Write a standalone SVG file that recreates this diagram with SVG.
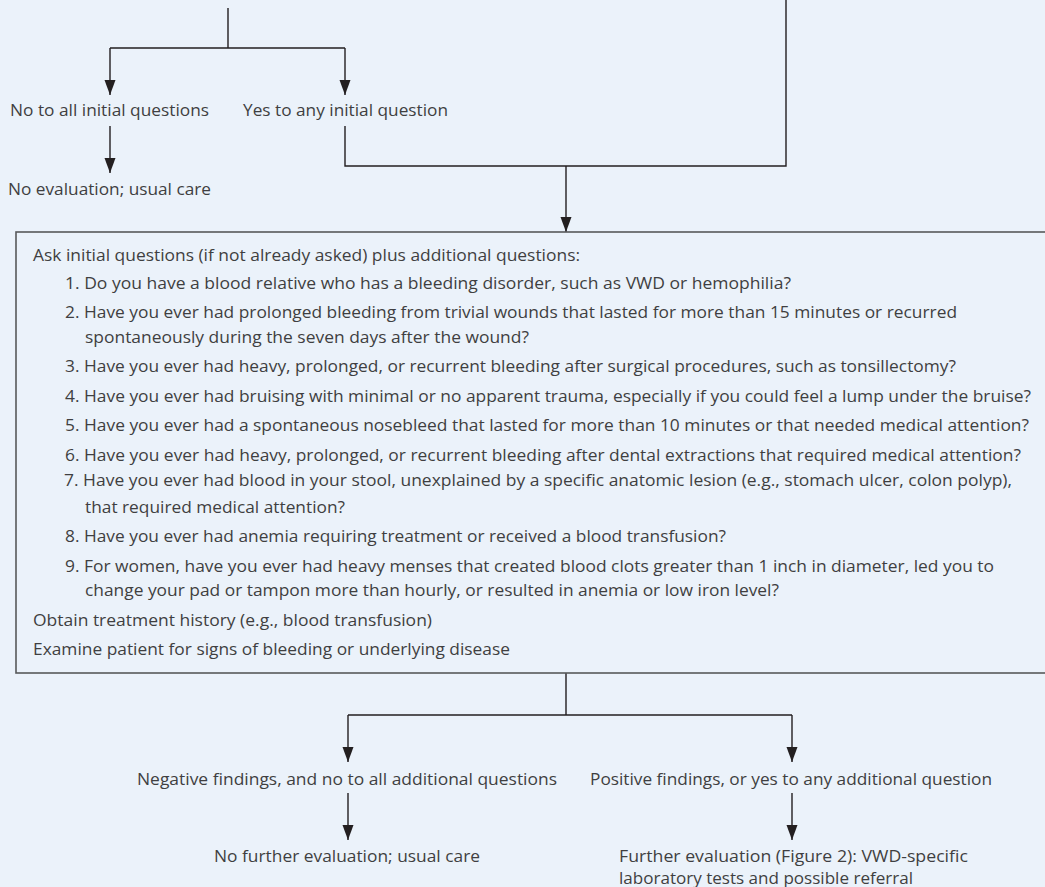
<svg xmlns="http://www.w3.org/2000/svg" width="1045" height="887" viewBox="0 0 1045 887">
<defs>
<style>
.t{font-family:"Open Sans","Noto Sans","Liberation Sans",sans-serif;font-size:16.8px;fill:#3f3f41}
.c{fill:none;stroke:#231f20;stroke-width:1.4}
.b{fill:none;stroke:#58595b;stroke-width:1.6}
</style>
<marker id="a" markerUnits="userSpaceOnUse" markerWidth="16" markerHeight="12" viewBox="0 0 16 12" refX="15" refY="6" orient="auto">
<path d="M0,0.5 L15,6 L0,11.5 Z" fill="#231f20"/>
</marker>
</defs>
<rect width="1045" height="887" fill="#ebf2fa"/>
<g id="connectors">
<path class="c" d="M228,8 V48 M110,48 H345"/>
<path class="c" d="M110,48 V95" marker-end="url(#a)"/>
<path class="c" d="M345,48 V95" marker-end="url(#a)"/>
<path class="c" d="M110,126 V173" marker-end="url(#a)"/>
<path class="c" d="M345,126 V166 H786 V0"/>
<path class="c" d="M566,166 V232" marker-end="url(#a)"/>
<path class="c" d="M566,673 V715 M348,715 H792"/>
<path class="c" d="M348,715 V762" marker-end="url(#a)"/>
<path class="c" d="M792,715 V762" marker-end="url(#a)"/>
<path class="c" d="M348,793 V840" marker-end="url(#a)"/>
<path class="c" d="M792,793 V840" marker-end="url(#a)"/>
</g>
<g id="no-initial"><text class="t" x="10" y="116" textLength="199" lengthAdjust="spacingAndGlyphs">No to all initial questions</text></g>
<g id="yes-initial"><text class="t" x="243" y="116" textLength="205" lengthAdjust="spacingAndGlyphs">Yes to any initial question</text></g>
<g id="no-evaluation"><text class="t" x="8" y="195" textLength="203" lengthAdjust="spacingAndGlyphs">No evaluation; usual care</text></g>
<g id="questions-box">
<rect class="b" x="16" y="232" width="1040" height="441"/>
<text class="t" x="33" y="261" textLength="547" lengthAdjust="spacingAndGlyphs">Ask initial questions (if not already asked) plus additional questions:</text>
<text class="t" x="65" y="289" textLength="726" lengthAdjust="spacingAndGlyphs">1. Do you have a blood relative who has a bleeding disorder, such as VWD or hemophilia?</text>
<text class="t" x="65" y="318" textLength="892" lengthAdjust="spacingAndGlyphs">2. Have you ever had prolonged bleeding from trivial wounds that lasted for more than 15 minutes or recurred</text>
<text class="t" x="85" y="343" textLength="444" lengthAdjust="spacingAndGlyphs">spontaneously during the seven days after the wound?</text>
<text class="t" x="65" y="372" textLength="891" lengthAdjust="spacingAndGlyphs">3. Have you ever had heavy, prolonged, or recurrent bleeding after surgical procedures, such as tonsillectomy?</text>
<text class="t" x="65" y="402" textLength="966" lengthAdjust="spacingAndGlyphs">4. Have you ever had bruising with minimal or no apparent trauma, especially if you could feel a lump under the bruise?</text>
<text class="t" x="65" y="431" textLength="964" lengthAdjust="spacingAndGlyphs">5. Have you ever had a spontaneous nosebleed that lasted for more than 10 minutes or that needed medical attention?</text>
<text class="t" x="65" y="461" textLength="956" lengthAdjust="spacingAndGlyphs">6. Have you ever had heavy, prolonged, or recurrent bleeding after dental extractions that required medical attention?</text>
<text class="t" x="64" y="486" textLength="948" lengthAdjust="spacingAndGlyphs">7. Have you ever had blood in your stool, unexplained by a specific anatomic lesion (e.g., stomach ulcer, colon polyp),</text>
<text class="t" x="85" y="513" textLength="260" lengthAdjust="spacingAndGlyphs">that required medical attention?</text>
<text class="t" x="65" y="542" textLength="661" lengthAdjust="spacingAndGlyphs">8. Have you ever had anemia requiring treatment or received a blood transfusion?</text>
<text class="t" x="65" y="572" textLength="929" lengthAdjust="spacingAndGlyphs">9. For women, have you ever had heavy menses that created blood clots greater than 1 inch in diameter, led you to</text>
<text class="t" x="85" y="596" textLength="694" lengthAdjust="spacingAndGlyphs">change your pad or tampon more than hourly, or resulted in anemia or low iron level?</text>
<text class="t" x="33" y="626" textLength="399" lengthAdjust="spacingAndGlyphs">Obtain treatment history (e.g., blood transfusion)</text>
<text class="t" x="33" y="655" textLength="477" lengthAdjust="spacingAndGlyphs">Examine patient for signs of bleeding or underlying disease</text>
</g>
<g id="negative"><text class="t" x="137" y="785" textLength="420" lengthAdjust="spacingAndGlyphs">Negative findings, and no to all additional questions</text></g>
<g id="positive"><text class="t" x="590" y="785" textLength="402" lengthAdjust="spacingAndGlyphs">Positive findings, or yes to any additional question</text></g>
<g id="no-further"><text class="t" x="214" y="862" textLength="266" lengthAdjust="spacingAndGlyphs">No further evaluation; usual care</text></g>
<g id="further">
<text class="t" x="619" y="862" textLength="349" lengthAdjust="spacingAndGlyphs">Further evaluation (Figure 2): VWD-specific</text>
<text class="t" x="619" y="884" textLength="294" lengthAdjust="spacingAndGlyphs">laboratory tests and possible referral</text>
</g>
</svg>
